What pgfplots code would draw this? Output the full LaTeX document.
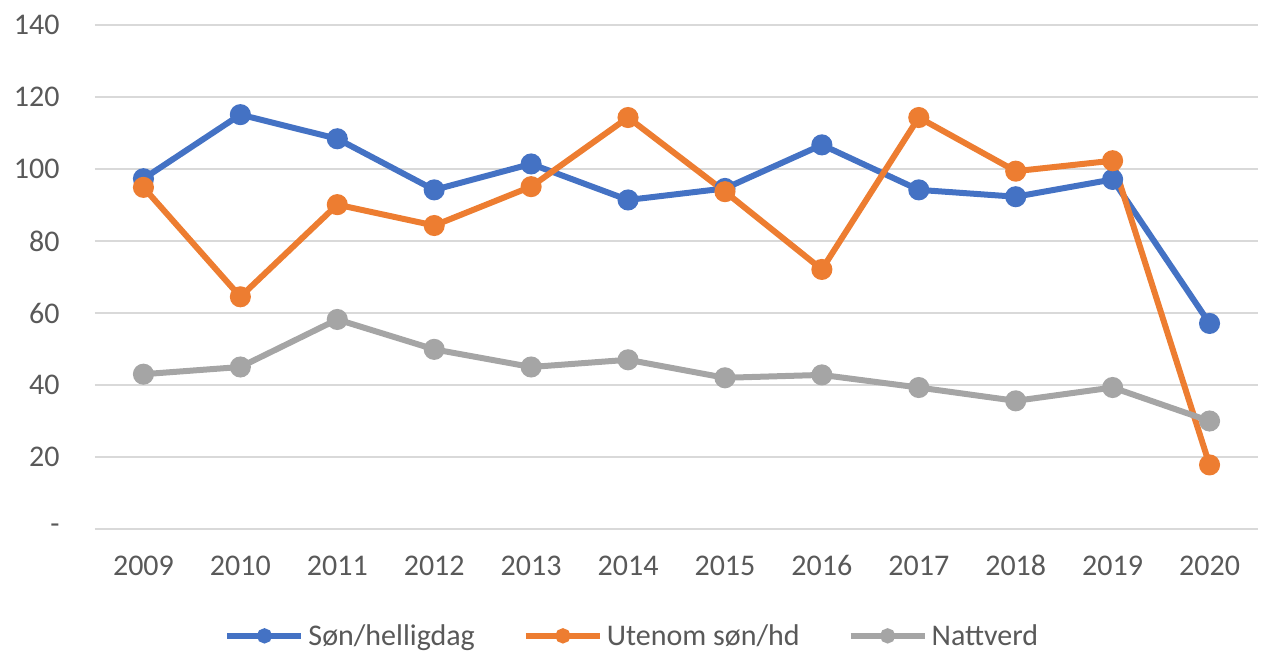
\documentclass[border=0pt]{standalone}
\usepackage{pgfplots}
\pgfplotsset{compat=1.18}
\usepackage{fontspec}
\setmainfont{Carlito}
\definecolor{cblue}{HTML}{4472C4}
\definecolor{corange}{HTML}{ED7D31}
\definecolor{cgray}{HTML}{A5A5A5}
\definecolor{cgrid}{HTML}{D9D9D9}
\definecolor{ctext}{HTML}{595959}
\begin{document}
\begin{tikzpicture}
\begin{axis}[
  name=ax,
  scale only axis,
  width=1163pt, height=504pt,
  xmin=-0.5, xmax=11.5, ymin=0, ymax=140,
  xtick={0,...,11},
  xticklabels={2009,2010,2011,2012,2013,2014,2015,2016,2017,2018,2019,2020},
  ytick={0,20,40,60,80,100,120,140},
  yticklabels={{-},20,40,60,80,100,120,140},
  ymajorgrids, major grid style={cgrid, line width=1.5pt},
  axis line style={draw=none}, tick style={draw=none},
  ticklabel style={font=\fontsize{30}{36}\selectfont, text=ctext},
  yticklabel style={xshift=-32pt},
  xticklabel style={yshift=-23pt, text height=20pt, text depth=2pt},
  legend columns=3,
  legend style={draw=none, at={(0.462,-0.212)}, anchor=center,
    font=\fontsize{30}{36}\selectfont, text=ctext,
    /tikz/every odd column/.append style={column sep=2pt},
    /tikz/every even column/.append style={column sep=46pt}},
  legend image code/.code={\draw[mark repeat=2,mark phase=2,mark size=4.5pt] plot coordinates {(0pt,0pt) (37pt,0pt) (74pt,0pt)};},
  every axis plot/.append style={line width=6pt, mark=*, mark size=7.5pt},
]
\addplot[cblue, mark options={fill=cblue}] coordinates {(0,97.3) (1,115.1) (2,108.4) (3,94.2) (4,101.4) (5,91.4) (6,94.6) (7,106.7) (8,94.2) (9,92.3) (10,97.1) (11,57.1)};
\addlegendentry{Søn/helligdag}
\addplot[corange, mark options={fill=corange}] coordinates {(0,94.9) (1,64.5) (2,90.1) (3,84.3) (4,95.1) (5,114.3) (6,93.7) (7,72.1) (8,114.3) (9,99.4) (10,102.3) (11,17.8)};
\addlegendentry{Utenom søn/hd}
\addplot[cgray, mark options={fill=cgray}] coordinates {(0,43) (1,45) (2,58.2) (3,49.9) (4,45) (5,47) (6,42) (7,42.8) (8,39.3) (9,35.6) (10,39.3) (11,30)};
\addlegendentry{Nattverd}
\end{axis}
\pgfresetboundingbox
\path ([shift={(-95pt,-124pt)}]ax.south west) rectangle ([shift={(5pt,25pt)}]ax.north east);
\end{tikzpicture}
\end{document}
